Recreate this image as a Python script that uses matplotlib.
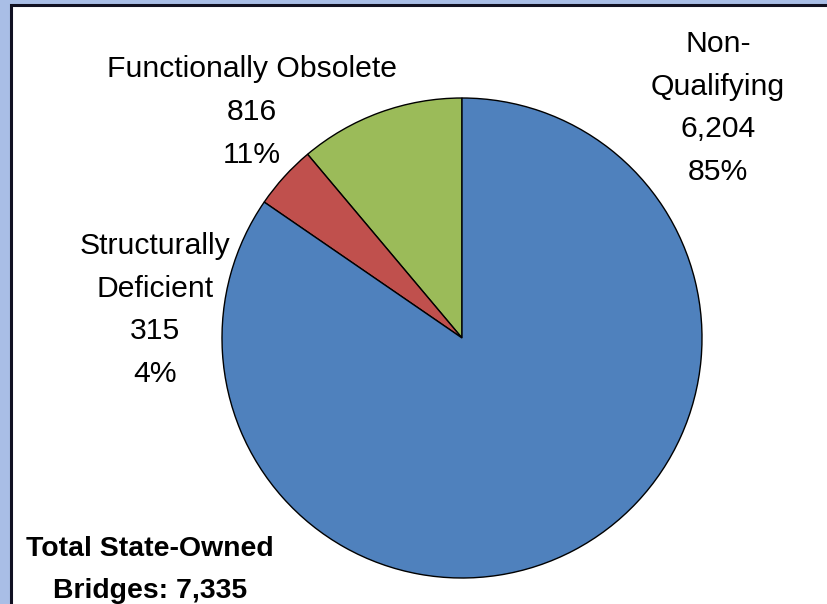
import matplotlib
matplotlib.use("Agg")
import matplotlib.pyplot as plt
from matplotlib.patches import Rectangle

categories = ["Functionally Obsolete", "Structurally Deficient", "Non-Qualifying"]
label_texts = ["Functionally Obsolete", "Structurally\nDeficient", "Non-\nQualifying"]
counts = [816, 315, 6204]
percents = ["11%", "4%", "85%"]
colors = ["#9BBB59", "#C0504D", "#4F81BD"]
total_label = "Total State-Owned\nBridges: 7,335"

font = "Liberation Sans"

W, H = 828, 604
fig = plt.figure(figsize=(W / 100, H / 100), dpi=100)
fig.patch.set_facecolor("#A9BEE6")
bg = fig.add_axes([0, 0, 1, 1], zorder=0)
bg.set_xlim(0, W)
bg.set_ylim(H, 0)
bg.axis("off")
bg.add_patch(Rectangle((11, 4.5), W + 20, H + 20, facecolor="white",
                       edgecolor="#111122", linewidth=2.2))

cx, cy, r = 462, 338, 240
ax = fig.add_axes([(cx - r) / W, (H - cy - r) / H, 2 * r / W, 2 * r / H], zorder=2)
ax.pie(counts, colors=colors, startangle=90, counterclock=True, radius=1,
       wedgeprops=dict(edgecolor="black", linewidth=1.0))
ax.set_xlim(-1, 1)
ax.set_ylim(-1, 1)
ax.set_aspect("auto")
ax.axis("off")

label_pos = [(252, 112), (155, 310), (718, 108)]
for txt, n, p, (x, y) in zip(label_texts, counts, percents, label_pos):
    fig.text(x / W, 1 - y / H, f"{txt}\n{n:,}\n{p}", ha="center", va="center",
             fontsize=21.7, family=font, linespacing=1.68, color="black", zorder=3)

fig.text(150 / W, 1 - 570 / H, total_label, ha="center", va="center",
         fontsize=20.4, family=font, fontweight="bold", linespacing=1.78, color="black", zorder=3)

fig.savefig("out.png", dpi=100, facecolor=fig.get_facecolor())
